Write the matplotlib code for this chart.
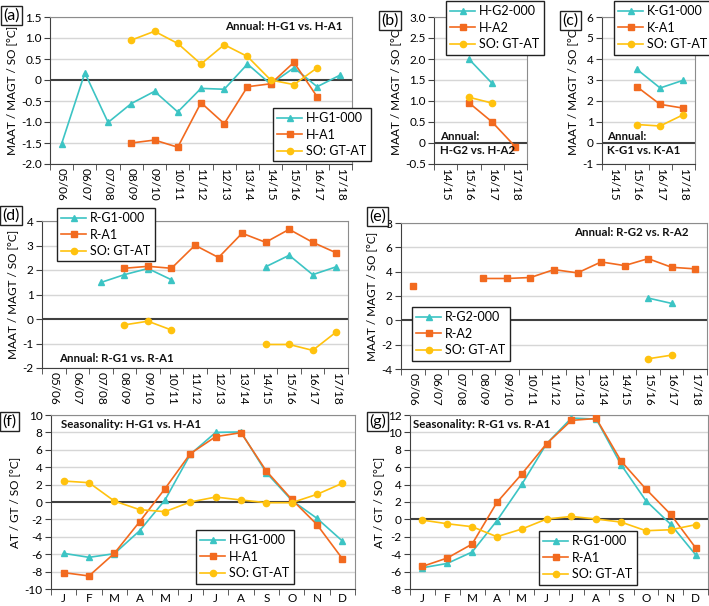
import numpy as np
import matplotlib
matplotlib.use("Agg")
import matplotlib.pyplot as plt
from matplotlib.ticker import FixedLocator

nan = np.nan
plt.rcParams['font.family'] = ['Lato', 'DejaVu Sans']

# ---------------- data ----------------
years = ["05/06", "06/07", "07/08", "08/09", "09/10", "10/11", "11/12",
         "12/13", "13/14", "14/15", "15/16", "16/17", "17/18"]
years_short = ["14/15", "15/16", "16/17", "17/18"]
months = ["J", "F", "M", "A", "M", "J", "J", "A", "S", "O", "N", "D"]

# (a)
a_hg1 = [-1.52, 0.17, -1.01, -0.56, -0.27, -0.76, -0.20, -0.22, 0.38, -0.10, 0.29, -0.16, 0.12]
a_ha1 = [nan, nan, nan, -1.50, -1.43, -1.60, -0.54, -1.04, -0.16, -0.09, 0.42, -0.40, nan]
a_so = [nan, nan, nan, 0.95, 1.16, 0.87, 0.38, 0.84, 0.56, 0.00, -0.11, 0.29, nan]
# (b)
b_hg2 = [nan, 2.00, 1.42, nan]
b_ha2 = [nan, 0.96, 0.50, -0.09]
b_so = [nan, 1.09, 0.95, nan]
# (c)
c_kg1 = [nan, 3.51, 2.62, 2.99]
c_ka1 = [nan, 2.68, 1.84, 1.66]
c_so = [nan, 0.88, 0.81, 1.35]
# (d)
d_rg1 = [nan, nan, 1.49, 1.81, 2.06, 1.60, nan, nan, nan, 2.13, 2.60, 1.81, 2.13]
d_ra1 = [nan, nan, nan, 2.07, 2.15, 2.07, 3.01, 2.51, 3.50, 3.13, 3.66, 3.13, 2.70]
d_so = [nan, nan, nan, -0.24, -0.09, -0.45, nan, nan, nan, -1.04, -1.04, -1.28, -0.53]
# (e)
e_rg2 = [nan, nan, nan, nan, nan, nan, nan, nan, nan, nan, 1.83, 1.39, nan]
e_ra2 = [2.86, nan, nan, 3.44, 3.44, 3.52, 4.17, 3.90, 4.80, 4.50, 5.07, 4.36, 4.23]
e_so = [nan, nan, nan, nan, nan, nan, nan, nan, nan, nan, -3.16, -2.86, nan]
# (f)
f_hg1 = [-5.90, -6.36, -5.94, -3.30, 0.23, 5.48, 8.00, 8.05, 3.37, 0.20, -1.88, -4.48]
f_ha1 = [-8.12, -8.50, -5.90, -2.26, 1.53, 5.56, 7.51, 7.97, 3.56, 0.31, -2.60, -6.51]
f_so = [2.41, 2.22, 0.11, -0.88, -1.11, 0.00, 0.57, 0.23, -0.08, -0.08, 0.88, 2.15]
# (g)
g_rg1 = [-5.56, -5.06, -3.75, -0.15, 4.02, 8.70, 11.65, 11.53, 6.28, 2.15, -0.57, -4.06]
g_ra1 = [-5.40, -4.44, -2.84, 1.95, 5.21, 8.70, 11.38, 11.60, 6.70, 3.49, 0.57, -3.26]
g_so = [-0.08, -0.50, -0.84, -1.99, -1.11, 0.04, 0.34, 0.04, -0.31, -1.30, -1.19, -0.61]

# ---------------- styling ----------------
W, H = 709, 606
CYAN = "#3CC4C4"
ORANGE = "#F26A1F"
YELLOW = "#FFC20E"
DARK = "#404040"

fig = plt.figure(figsize=(W / 100, H / 100), dpi=100)


def add_ax(l, r, t, b):
    return fig.add_axes([l / W, 1 - b / H, (r - l) / W, (b - t) / H])


def style(ax, cats, yticks, ylabels, ylabel, rotate=True):
    n = len(cats)
    x = np.arange(n)
    ax.set_xlim(-0.5, n - 0.5)
    ax.set_ylim(yticks[0], yticks[-1])
    ax.set_yticks(yticks)
    ax.set_yticklabels(ylabels, fontsize=8.5)
    ax.set_xticks(x)
    ax.set_xticklabels(cats, fontsize=8.5, rotation=270 if rotate else 0)
    ax.xaxis.set_minor_locator(FixedLocator(np.arange(n + 1) - 0.5))
    ax.tick_params(axis='x', which='major', length=0, pad=3)
    ax.tick_params(axis='x', which='minor', length=4, color=DARK, direction='out')
    ax.tick_params(axis='y', length=4, color=DARK, direction='out', pad=2)
    for yv in yticks:
        if yv != 0:
            ax.axhline(yv, color="#D6D6D6", lw=1, zorder=0)
    ax.axhline(0, color=DARK, lw=1.5, zorder=1)
    ax.spines['left'].set_color(DARK)
    ax.spines['bottom'].set_color(DARK)
    ax.spines['top'].set_color("#8C8C8C")
    ax.spines['right'].set_color("#8C8C8C")
    ax.set_ylabel(ylabel, fontsize=8.5, labelpad=3)


def plot3(ax, s1, s2, s3, labels):
    x = np.arange(len(s1))
    ax.plot(x, s1, color=CYAN, marker='^', ms=5, lw=1.2, label=labels[0], zorder=3)
    ax.plot(x, s2, color=ORANGE, marker='s', ms=4.5, lw=1.2, label=labels[1], zorder=3)
    ax.plot(x, s3, color=YELLOW, marker='o', ms=4.5, lw=1.2, label=labels[2], zorder=3)


def legend(ax, px, py):
    lg = ax.legend(loc='upper left', bbox_to_anchor=(px / W, 1 - py / H),
                   bbox_transform=fig.transFigure, borderaxespad=0,
                   fontsize=9, frameon=True, fancybox=False, framealpha=1,
                   edgecolor="#222222", handlelength=2.0, handletextpad=0.3,
                   labelspacing=0.35, borderpad=0.35)
    lg.get_frame().set_linewidth(1.0)
    lg.set_zorder(10)


def panel_label(txt, px, py):
    fig.text(px / W, 1 - py / H, txt, fontsize=11.5, ha='left', va='top',
             bbox=dict(boxstyle='square,pad=0.15', fc='white', ec='#222222', lw=1))


def note(ax, px, py, txt, ha='left'):
    fig.text(px / W, 1 - py / H, txt, fontsize=8.3, fontweight='bold', ha=ha, va='center',
             color='#111111', linespacing=1.2)


annual_lab = "MAAT / MAGT / SO [°C]"
season_lab = "AT / GT / SO [°C]"

# (a)
ax = add_ax(50, 352, 17, 164)
style(ax, years, [-2.0, -1.5, -1.0, -0.5, 0, 0.5, 1.0, 1.5],
      ["-2.0", "-1.5", "-1.0", "-0.5", "0", "0.5", "1.0", "1.5"], annual_lab)
plot3(ax, a_hg1, a_ha1, a_so, ["H-G1-000", "H-A1", "SO: GT-AT"])
legend(ax, 273, 108)
note(ax, 343, 27, "Annual: H-G1 vs. H-A1", ha='right')
panel_label("(a)", 3, 8)

# (b)
ax = add_ax(434, 527, 17, 164)
style(ax, years_short, [-0.5, 0, 0.5, 1.0, 1.5, 2.0, 2.5, 3.0],
      ["-0.5", "0", "0.5", "1.0", "1.5", "2.0", "2.5", "3.0"], annual_lab)
plot3(ax, b_hg2, b_ha2, b_so, ["H-G2-000", "H-A2", "SO: GT-AT"])
legend(ax, 446, 1)
note(ax, 440, 137, "Annual:")
note(ax, 440, 150, "H-G2 vs. H-A2")
panel_label("(b)", 381, 13)

# (c)
ax = add_ax(602, 695, 17, 164)
style(ax, years_short, [-1, 0, 1, 2, 3, 4, 5, 6],
      ["-1", "0", "1", "2", "3", "4", "5", "6"], annual_lab)
plot3(ax, c_kg1, c_ka1, c_so, ["K-G1-000", "K-A1", "SO: GT-AT"])
legend(ax, 614, 1)
note(ax, 607, 137, "Annual:")
note(ax, 607, 150, "K-G1 vs. K-A1")
panel_label("(c)", 562, 13)

# (d)
ax = add_ax(42, 348, 221, 368)
style(ax, years, [-2, -1, 0, 1, 2, 3, 4],
      ["-2", "-1", "0", "1", "2", "3", "4"], annual_lab)
plot3(ax, d_rg1, d_ra1, d_so, ["R-G1-000", "R-A1", "SO: GT-AT"])
legend(ax, 57, 208)
note(ax, 59, 358, "Annual: R-G1 vs. R-A1")
panel_label("(d)", 2, 208)

# (e)
ax = add_ax(401, 707, 223, 369)
style(ax, years, [-4, -2, 0, 2, 4, 6, 8],
      ["-4", "-2", "0", "2", "4", "6", "8"], annual_lab)
plot3(ax, e_rg2, e_ra2, e_so, ["R-G2-000", "R-A2", "SO: GT-AT"])
legend(ax, 412, 307)
note(ax, 689, 233, "Annual: R-G2 vs. R-A2", ha='right')
panel_label("(e)", 369, 209)

# (f)
ax = add_ax(51, 355, 415, 589)
yt = list(range(-10, 11, 2))
style(ax, months, yt, [str(v) for v in yt], season_lab, rotate=False)
plot3(ax, f_hg1, f_ha1, f_so, ["H-G1-000", "H-A1", "SO: GT-AT"])
legend(ax, 196, 530)
note(ax, 61, 424, "Seasonality: H-G1 vs. H-A1")
panel_label("(f)", 2, 414)

# (g)
ax = add_ax(410, 708, 415, 589)
yt = list(range(-8, 13, 2))
style(ax, months, yt, [str(v) for v in yt], season_lab, rotate=False)
plot3(ax, g_rg1, g_ra1, g_so, ["R-G1-000", "R-A1", "SO: GT-AT"])
legend(ax, 539, 531)
note(ax, 413, 424, "Seasonality: R-G1 vs. R-A1")
panel_label("(g)", 369, 414)

fig.savefig("out.png", dpi=100)
